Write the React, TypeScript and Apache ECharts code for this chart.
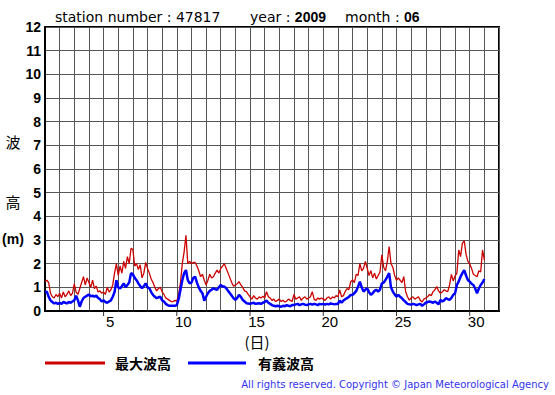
import React, { useEffect, useRef } from "react";
import * as echarts from "echarts";

// 3-hourly values, June 1 00:00 .. July 1 00:00 (8 per day)
const maxWave: number[] = [
  1.25, 1.3, 1.2, 0.75, 0.6, 0.55, 0.7, 0.6, // 1
  0.75, 0.55, 0.8, 0.6, 0.7, 0.85, 0.65, 0.75, // 2
  1.15, 0.8, 0.7, 0.95, 1.2, 1.45, 1.1, 1.4, // 3
  1.2, 1.0, 1.3, 0.95, 1.05, 0.8, 0.85, 0.75, // 4
  0.8, 0.7, 1.0, 0.8, 0.9, 1.1, 1.6, 2.0, // 5
  1.5, 1.9, 1.6, 2.1, 1.8, 2.3, 2.0, 2.65, // 6
  2.6, 1.9, 2.0, 1.75, 1.95, 1.4, 1.6, 2.05, // 7
  1.8, 1.6, 1.35, 1.2, 1.0, 0.85, 0.95, 1.0, // 8
  0.8, 0.7, 0.55, 0.5, 0.45, 0.4, 0.4, 0.45, // 9
  0.4, 0.7, 1.2, 2.0, 2.5, 3.2, 2.0, 2.1, // 10
  2.0, 2.05, 2.05, 1.9, 1.7, 1.45, 1.55, 1.3, // 11
  1.1, 1.3, 1.55, 1.4, 1.45, 1.6, 1.73, 1.6, // 12
  1.8, 1.9, 2.0, 1.8, 1.6, 1.4, 1.2, 1.05, // 13
  1.1, 1.15, 1.24, 1.1, 1.0, 0.85, 0.82, 0.7, // 14
  0.6, 0.5, 0.65, 0.55, 0.5, 0.6, 0.55, 0.62, // 15
  0.55, 0.82, 0.6, 0.55, 0.45, 0.5, 0.4, 0.45, // 16
  0.5, 0.4, 0.45, 0.38, 0.42, 0.5, 0.45, 0.4, // 17
  0.7, 0.5, 0.55, 0.6, 0.45, 0.55, 0.6, 0.5, // 18
  0.55, 0.6, 0.82, 0.5, 0.45, 0.55, 0.5, 0.55, // 19
  0.5, 0.45, 0.55, 0.6, 0.5, 0.6, 0.55, 0.65, // 20
  0.6, 0.89, 0.6, 0.65, 0.82, 0.95, 0.9, 1.24, // 21
  1.31, 1.2, 1.55, 1.5, 2.0, 1.7, 1.8, 2.1, // 22
  1.8, 1.5, 1.7, 1.4, 1.6, 1.35, 1.5, 1.65, // 23
  2.37, 1.85, 1.7, 2.1, 2.72, 2.0, 1.85, 1.5, // 24
  1.3, 1.4, 1.3, 1.2, 1.45, 0.82, 0.6, 0.46, // 25
  0.55, 0.6, 0.5, 0.55, 0.6, 0.45, 0.38, 0.5, // 26
  0.55, 0.6, 0.7, 0.65, 0.82, 0.9, 1.03, 0.85, // 27
  0.75, 0.8, 0.9, 0.85, 0.82, 1.1, 1.55, 1.27, // 28
  1.48, 1.6, 2.58, 2.3, 2.87, 2.96, 2.4, 2.1, // 29
  2.0, 1.8, 1.55, 1.5, 1.45, 1.7, 1.65, 2.58, // 30
  2.15,
];

const sigWave: number[] = [
  0.8, 0.82, 0.6, 0.45, 0.38, 0.32, 0.35, 0.3, // 1
  0.35, 0.3, 0.38, 0.35, 0.32, 0.38, 0.35, 0.4, // 2
  0.45, 0.65, 0.45, 0.18, 0.4, 0.55, 0.6, 0.65, // 3
  0.7, 0.62, 0.65, 0.6, 0.65, 0.55, 0.5, 0.4, // 4
  0.45, 0.38, 0.35, 0.4, 0.45, 0.6, 0.8, 1.3, // 5
  1.0, 0.95, 1.05, 1.17, 1.0, 1.1, 1.2, 1.6, // 6
  1.55, 1.4, 1.3, 1.17, 1.05, 0.96, 1.05, 1.17, // 7
  1.0, 0.96, 0.8, 0.68, 0.6, 0.54, 0.58, 0.6, // 8
  0.45, 0.4, 0.3, 0.25, 0.22, 0.22, 0.22, 0.22, // 9
  0.25, 0.5, 0.9, 1.3, 1.6, 1.73, 1.3, 1.17, // 10
  1.2, 1.4, 1.45, 1.2, 1.0, 0.85, 0.75, 0.44, // 11
  0.6, 0.75, 0.85, 0.9, 0.96, 0.92, 0.9, 1.0, // 12
  1.1, 1.03, 1.03, 0.96, 0.85, 0.75, 0.65, 0.54, // 13
  0.47, 0.55, 0.68, 0.6, 0.47, 0.4, 0.33, 0.32, // 14
  0.3, 0.33, 0.35, 0.3, 0.32, 0.33, 0.3, 0.35, // 15
  0.38, 0.44, 0.35, 0.3, 0.25, 0.22, 0.2, 0.22, // 16
  0.2, 0.18, 0.22, 0.2, 0.25, 0.22, 0.2, 0.25, // 17
  0.25, 0.28, 0.3, 0.25, 0.28, 0.3, 0.27, 0.25, // 18
  0.28, 0.3, 0.27, 0.3, 0.28, 0.25, 0.3, 0.28, // 19
  0.3, 0.27, 0.3, 0.28, 0.32, 0.3, 0.28, 0.3, // 20
  0.3, 0.44, 0.35, 0.44, 0.5, 0.54, 0.6, 0.68, // 21
  0.68, 0.75, 0.85, 1.03, 1.24, 1.0, 0.82, 0.9, // 22
  0.96, 0.8, 0.68, 0.75, 0.85, 0.9, 0.82, 0.9, // 23
  1.17, 1.2, 1.31, 1.45, 1.6, 1.0, 0.82, 0.7, // 24
  0.61, 0.68, 0.6, 0.54, 0.45, 0.38, 0.3, 0.28, // 25
  0.27, 0.3, 0.28, 0.25, 0.28, 0.3, 0.22, 0.28, // 26
  0.35, 0.38, 0.4, 0.38, 0.35, 0.4, 0.35, 0.28, // 27
  0.47, 0.4, 0.45, 0.54, 0.5, 0.47, 0.55, 0.68, // 28
  0.75, 1.1, 1.25, 1.45, 1.6, 1.73, 1.5, 1.31, // 29
  1.24, 1.15, 1.1, 0.95, 0.75, 0.95, 1.1, 1.2, // 30
  1.35,
];

const firstDay = 1;
const stepsPerDay = 8;
const xTickDays = [5, 10, 15, 20, 25, 30];
const xMin = 1;
const xMax = 32;
const yMin = 0;
const yMax = 12;

const titleStation = "station number : 47817";
const titleYear = "year : ";
const titleYearValue = "2009";
const titleMonth = "month : ";
const titleMonthValue = "06";
const legendMax = "最大波高";
const legendSig = "有義波高";
const copyright = "All rights reserved. Copyright © Japan Meteorological Agency";

const RED = "#cc0000";
const BLUE = "#0000ff";
const SANS = "'Liberation Sans', Arial, sans-serif";
const WIDE = "'DejaVu Sans', sans-serif";
const CJK = "'Noto Sans CJK JP', sans-serif";

export default function App() {
  const ref = useRef<HTMLDivElement>(null);

  useEffect(() => {
    if (!ref.current) return;
    const chart = echarts.init(ref.current, null, { renderer: "svg" });
    const toPairs = (arr: number[]) =>
      arr.map((v, i) => [firstDay + i / stepsPerDay, v]);

    chart.setOption({
      animation: false,
      backgroundColor: "#ffffff",
      grid: {
        left: 45,
        top: 27,
        right: 56,
        bottom: 84,
        show: true,
        borderColor: "#000",
        borderWidth: 2,
        backgroundColor: "transparent",
      },
      xAxis: {
        type: "value",
        min: xMin,
        max: xMax,
        interval: 1,
        axisLine: { show: true, lineStyle: { color: "#000", width: 2 } },
        axisTick: { show: false },
        splitLine: { show: true, lineStyle: { color: "#555", width: 1 } },
        axisLabel: {
          color: "#000",
          fontSize: 15,
          lineHeight: 14,
          fontFamily: SANS,
          margin: 3,
          padding: [0, 0, 0, 13],
          formatter: (v: number) => (xTickDays.indexOf(v) >= 0 ? String(v) : ""),
        },
      },
      yAxis: {
        type: "value",
        min: yMin,
        max: yMax,
        interval: 1,
        axisLine: { show: true, lineStyle: { color: "#000", width: 2 } },
        axisTick: { show: false },
        splitLine: { show: true, lineStyle: { color: "#555", width: 1 } },
        axisLabel: {
          color: "#000",
          fontSize: 14,
          fontWeight: "bold",
          fontFamily: SANS,
          margin: 4,
        },
      },
      series: [
        {
          name: legendMax,
          type: "line",
          data: toPairs(maxWave),
          showSymbol: false,
          lineStyle: { color: RED, width: 1.3 },
          z: 3,
        },
        {
          name: legendSig,
          type: "line",
          data: toPairs(sigWave),
          showSymbol: false,
          lineStyle: { color: BLUE, width: 2.5 },
          z: 4,
        },
        {
          type: "scatter",
          data: xTickDays.map((d) => [d, 0]),
          symbol: "rect",
          symbolSize: [1, 4],
          symbolOffset: [0, 3],
          itemStyle: { color: "#000" },
          clip: false,
          z: 5,
        },
      ],
      graphic: [
        { type: "text", x: 55, y: 17, style: { text: titleStation, font: `14px ${WIDE}`, fill: "#000", verticalAlign: "middle" } },
        {
          type: "text", x: 250, y: 17,
          style: {
            text: `{a|${titleYear}}{b|${titleYearValue}}`,
            verticalAlign: "middle",
            rich: {
              a: { font: `14px ${WIDE}`, fill: "#000" },
              b: { font: `bold 14px ${SANS}`, fill: "#000" },
            },
          },
        },
        {
          type: "text", x: 345, y: 17,
          style: {
            text: `{a|${titleMonth}}{b|${titleMonthValue}}`,
            verticalAlign: "middle",
            rich: {
              a: { font: `14px ${WIDE}`, fill: "#000" },
              b: { font: `bold 14px ${SANS}`, fill: "#000" },
            },
          },
        },
        { type: "text", x: 13, y: 141, style: { text: "波", font: `15px ${CJK}`, fill: "#000", align: "center", verticalAlign: "middle" } },
        { type: "text", x: 13, y: 201, style: { text: "高", font: `15px ${CJK}`, fill: "#000", align: "center", verticalAlign: "middle" } },
        { type: "text", x: 13, y: 239, style: { text: "(m)", font: `bold 14px ${SANS}`, fill: "#000", align: "center", verticalAlign: "middle" } },
        { type: "text", x: 257, y: 341, style: { text: "(日)", font: `15px ${CJK}`, lineHeight: 14, fill: "#000", align: "center", verticalAlign: "middle" } },
        { type: "line", shape: { x1: 45, y1: 363, x2: 105, y2: 363 }, style: { stroke: RED, lineWidth: 3 } },
        { type: "text", x: 115, y: 363, style: { text: legendMax, font: `bold 14px ${CJK}`, fill: "#000", verticalAlign: "middle" } },
        { type: "line", shape: { x1: 188, y1: 363, x2: 246, y2: 363 }, style: { stroke: BLUE, lineWidth: 3 } },
        { type: "text", x: 258, y: 363, style: { text: legendSig, font: `bold 14px ${CJK}`, fill: "#000", verticalAlign: "middle" } },
        { type: "text", x: 549, y: 384, style: { text: copyright, font: `10px ${WIDE}`, fill: "#3333ee", align: "right", verticalAlign: "middle" } },
      ],
    });
    return () => chart.dispose();
  }, []);

  return (
    <div
      ref={ref}
      style={{ position: "fixed", left: 0, top: 0, width: 555, height: 395, background: "#fff" }}
    />
  );
}
